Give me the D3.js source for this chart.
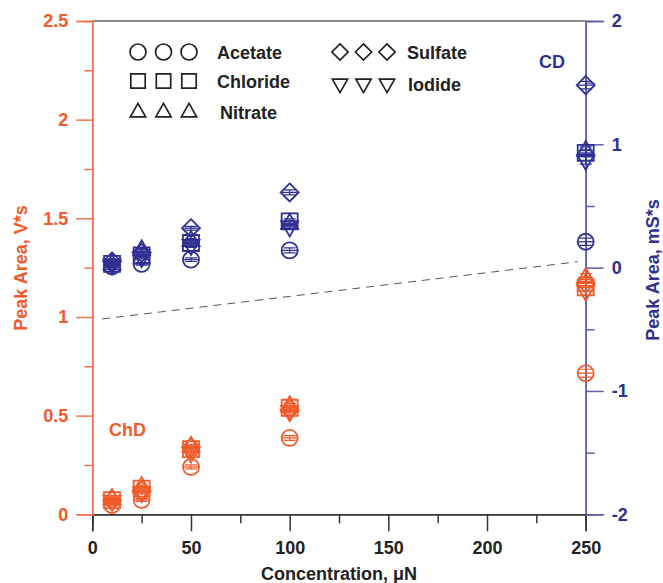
<!DOCTYPE html>
<html>
<head>
<meta charset="utf-8">
<script src="https://cdn.jsdelivr.net/npm/d3@7"></script>
<style>
  body { margin: 0; background: #fff; }
  text { font-family: "Liberation Sans", Arial, Helvetica, sans-serif; font-weight: bold; }
</style>
</head>
<body>
<script>
// concentrations (uN) and anions
var conc = [10, 25, 50, 100, 250];
var anions = ["Acetate", "Chloride", "Nitrate", "Sulfate", "Iodide"];
var shapes = ["circle", "square", "triangle", "diamond", "itriangle"];

// CD, right axis (mS*s)
var cdAcetate  = [0.01, 0.03, 0.065, 0.14, 0.21];
var cdChloride = [0.03, 0.10, 0.20, 0.375, 0.93];
var cdNitrate  = [0.03, 0.145, 0.22, 0.36, 0.95];
var cdSulfate  = [0.05, 0.12, 0.32, 0.61, 1.48];
var cdIodide   = [0.02, 0.08, 0.18, 0.33, 0.87];
var cdErr      = [0.01, 0.01, 0.015, 0.02, 0.03];

// ChD, left axis (V*s)
var chdAcetate  = [0.047, 0.073, 0.24, 0.387, 0.715];
var chdChloride = [0.072, 0.13, 0.33, 0.54, 1.15];
var chdNitrate  = [0.08, 0.14, 0.345, 0.55, 1.20];
var chdSulfate  = [0.07, 0.12, 0.34, 0.53, 1.17];
var chdIodide   = [0.065, 0.11, 0.31, 0.52, 1.13];
var chdErr      = [0.005, 0.008, 0.01, 0.012, 0.02];

// dashed line (left axis units)
var fitX = [5, 246];
var fitY = [0.99, 1.28];

var xTicks = [0, 50, 100, 150, 200, 250];
var xMinor = [25, 75, 125, 175, 225];
var leftTicks = [0, 0.5, 1, 1.5, 2, 2.5];
var leftMinor = [0.25, 0.75, 1.25, 1.75, 2.25];
var rightTicks = [-2, -1, 0, 1, 2];
var rightMinor = [-1.5, -0.5, 0.5, 1.5];

var ORANGE = "#f15a29", ORANGE_AX = "#f47350", BLUE = "#2e3192", BLUE_AX = "#5b5fab";

var W = 663, H = 583;
var L = 92.3, R = 585.7, T = 21, B = 514.3;

var svg = d3.select("body").append("svg").attr("width", W).attr("height", H);

var x = d3.scaleLinear().domain([0, 250]).range([L, R]);
var yL = d3.scaleLinear().domain([0, 2.5]).range([B, T]);
var yR = d3.scaleLinear().domain([-2, 2]).range([B, T]);

// marker path
function shapePath(type, k) {
  k = k || 1;
  var p;
  if (type == "circle") {
    var r = 8 * k;
    return "M" + (-r) + ",0A" + r + "," + r + " 0 1,0 " + r + ",0A" + r + "," + r + " 0 1,0 " + (-r) + ",0Z";
  }
  if (type == "square") p = [[-8, -8], [8, -8], [8, 8], [-8, 8]];
  if (type == "triangle") p = [[0, -9.5], [8.5, 5.5], [-8.5, 5.5]];
  if (type == "diamond") p = [[0, -9], [9, 0], [0, 9], [-9, 0]];
  if (type == "itriangle") p = [[0, 9.5], [8.5, -5.5], [-8.5, -5.5]];
  return "M" + p.map(function(d) { return (d[0] * k) + "," + (d[1] * k); }).join("L") + "Z";
}

// top frame line
svg.append("line").attr("x1", L).attr("x2", R).attr("y1", T).attr("y2", T)
  .attr("stroke", "#666").attr("stroke-width", 1.3);

// dashed line
svg.append("path")
  .attr("d", d3.line().x(function(d) { return x(d[0]); }).y(function(d) { return yL(d[1]); })(d3.zip(fitX, fitY)))
  .attr("fill", "none").attr("stroke", "#555").attr("stroke-width", 1).attr("stroke-dasharray", "8,6");

// bottom axis
var gx = svg.append("g").attr("transform", "translate(0," + B + ")");
gx.call(d3.axisBottom(x).tickValues(xTicks).tickSize(17).tickPadding(10).tickFormat(function(d) { return d; }));
gx.append("g").call(d3.axisBottom(x).tickValues(xMinor).tickSize(9).tickFormat(""));
gx.selectAll(".domain").attr("stroke", "#333").attr("stroke-width", 1.5);
gx.selectAll(".tick line").attr("stroke", "#333").attr("stroke-width", 1.5);
gx.selectAll("text").attr("fill", "#222").style("font-size", "18px");

// left axis
var gl = svg.append("g").attr("transform", "translate(" + L + ",0)");
gl.call(d3.axisLeft(yL).tickValues(leftTicks).tickSize(16).tickPadding(8).tickFormat(function(d) { return d; }));
gl.append("g").call(d3.axisLeft(yL).tickValues(leftMinor).tickSize(8).tickFormat(""));
gl.selectAll(".domain").attr("stroke", ORANGE_AX).attr("stroke-width", 1.5);
gl.selectAll(".tick line").attr("stroke", ORANGE_AX).attr("stroke-width", 1.5);
gl.selectAll("text").attr("fill", ORANGE).style("font-size", "18px");

// right axis
var gr = svg.append("g").attr("transform", "translate(" + R + ",0)");
gr.call(d3.axisRight(yR).tickValues(rightTicks).tickSize(18).tickPadding(8).tickFormat(function(d) { return String(d); }));
gr.append("g").call(d3.axisRight(yR).tickValues(rightMinor).tickSize(9).tickFormat(""));
gr.selectAll(".domain").attr("stroke", BLUE_AX).attr("stroke-width", 1.5);
gr.selectAll(".tick line").attr("stroke", BLUE_AX).attr("stroke-width", 1.5);
gr.selectAll("text").attr("fill", BLUE).style("font-size", "18px");

// titles
svg.append("text").attr("x", (L + R) / 2).attr("y", 580).attr("text-anchor", "middle")
  .attr("fill", "#222").style("font-size", "18px").text("Concentration, \u03bcN");
svg.append("text").attr("transform", "translate(27,268) rotate(-90)").attr("text-anchor", "middle")
  .attr("fill", ORANGE).style("font-size", "18px").text("Peak Area, V*s");
svg.append("text").attr("transform", "translate(659,270) rotate(-90)").attr("text-anchor", "middle")
  .attr("fill", BLUE).style("font-size", "18px").text("Peak Area, mS*s");
svg.append("text").attr("x", 552).attr("y", 68).attr("text-anchor", "middle")
  .attr("fill", BLUE).style("font-size", "18px").text("CD");
svg.append("text").attr("x", 109).attr("y", 436)
  .attr("fill", ORANGE).style("font-size", "18px").text("ChD");

// points
function series(vals, err, y, color) {
  var pts = [];
  vals.forEach(function(v, i) {
    conc.forEach(function(c, j) {
      pts.push({ shape: shapes[i], x: c, y: v[j], e: err[j] });
    });
  });
  var g = svg.append("g");
  var pg = g.selectAll("g").data(pts).enter().append("g")
    .attr("transform", function(d) { return "translate(" + x(d.x) + "," + y(d.y) + ")"; });
  pg.append("path").attr("d", function(d) { return shapePath(d.shape); })
    .attr("fill", "none").attr("stroke", color).attr("stroke-width", 1.8);
  pg.append("line").attr("x1", -7.5).attr("x2", 7.5).attr("y1", 0).attr("y2", 0)
    .attr("stroke", color).attr("stroke-width", 1.3);
  pg.append("path")
    .attr("d", function(d) {
      var h = Math.abs(y(d.y + d.e) - y(d.y));
      return "M0," + (-h) + "V" + h + "M-6," + (-h) + "H6M-6," + h + "H6";
    })
    .attr("fill", "none").attr("stroke", color).attr("stroke-width", 1.2);
}
series([chdAcetate, chdChloride, chdNitrate, chdSulfate, chdIodide], chdErr, yL, ORANGE);
series([cdAcetate, cdChloride, cdNitrate, cdSulfate, cdIodide], cdErr, yR, BLUE);

// legend
var legend = [
  { name: "Acetate", shape: "circle", x: 138, tx: 217, y: 52 },
  { name: "Chloride", shape: "square", x: 138, tx: 217, y: 81 },
  { name: "Nitrate", shape: "triangle", x: 138, tx: 220, y: 112 },
  { name: "Sulfate", shape: "diamond", x: 340, tx: 407, y: 52 },
  { name: "Iodide", shape: "itriangle", x: 340, tx: 408, y: 84 }
];
var lg = svg.append("g").selectAll("g").data(legend).enter().append("g");
[0, 1, 2].forEach(function(n) {
  lg.append("path")
    .attr("transform", function(d) { return "translate(" + (d.x + n * (d.shape == "circle" || d.shape == "square" || d.shape == "triangle" ? 25.5 : 23.5)) + "," + d.y + ")"; })
    .attr("d", function(d) { return shapePath(d.shape, d.shape == "circle" ? 1 : 0.9); })
    .attr("fill", "none").attr("stroke", "#222").attr("stroke-width", 1.7);
});
lg.append("text").attr("x", function(d) { return d.tx; }).attr("y", function(d) { return d.y + 6.5; })
  .attr("fill", "#222").style("font-size", "18px").text(function(d) { return d.name; });
</script>
</body>
</html>
